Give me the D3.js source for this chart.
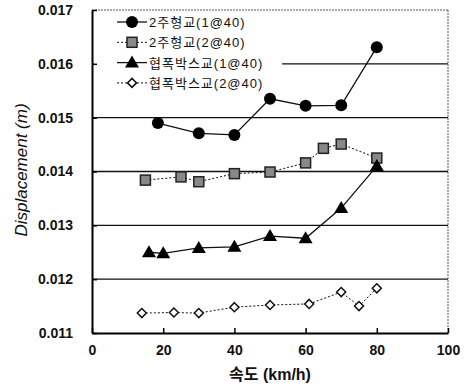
<!DOCTYPE html>
<html>
<head>
<meta charset="utf-8">
<script src="https://cdn.jsdelivr.net/npm/d3@7"></script>
<style>
  body { margin: 0; background: #fff; }
  text { font-family: "Liberation Sans", Arial, "Noto Sans CJK KR", sans-serif; }
</style>
</head>
<body>
<div id="chart"></div>
<script>
// data
const s1x = [18.5, 30, 40, 50, 60, 70, 80];
const s1y = [0.01490, 0.01471, 0.01468, 0.01535, 0.01522, 0.01523, 0.01631];
const s2x = [15, 25, 30, 40, 50, 60, 65, 70, 80];
const s2y = [0.01384, 0.01390, 0.01381, 0.01396, 0.01399, 0.01416, 0.01443, 0.01451, 0.01425];
const s3x = [16, 20, 30, 40, 50, 60, 70, 80];
const s3y = [0.01250, 0.01248, 0.01258, 0.01260, 0.01280, 0.01276, 0.01332, 0.01410];
const s4x = [14, 23, 30, 40, 50, 61, 70, 75, 80];
const s4y = [0.01137, 0.01138, 0.01137, 0.01148, 0.01152, 0.01154, 0.01176, 0.01150, 0.01183];
const seriesNames = ["2주형교(1@40)", "2주형교(2@40)", "협폭박스교(1@40)", "협폭박스교(2@40)"];
const xTicks = [0, 20, 40, 60, 80, 100];
const yTicks = [0.011, 0.012, 0.013, 0.014, 0.015, 0.016, 0.017];

const margin = {top: 10, right: 19, bottom: 56, left: 92},
      width = 467 - margin.left - margin.right,
      height = 389 - margin.top - margin.bottom;

const svg = d3.select("#chart")
  .append("svg")
    .attr("width", 467)
    .attr("height", 389)
  .append("g")
    .attr("transform", `translate(${margin.left},${margin.top})`);

const x = d3.scaleLinear().domain([0, 100]).range([0, width]);
const y = d3.scaleLinear().domain([0.011, 0.017]).range([height, 0]);

// gridlines
svg.selectAll(".grid")
  .data(yTicks.filter(d => d > 0.011 && d < 0.017))
  .enter().append("line")
    .attr("x1", 0).attr("x2", width)
    .attr("y1", d => y(d)).attr("y2", d => y(d))
    .attr("stroke", "#111")
    .attr("stroke-width", 1.3);

// top and right frame
svg.append("line").attr("x1", 0).attr("x2", width).attr("y1", 0).attr("y2", 0)
  .attr("stroke", "#555").attr("stroke-width", 1).attr("stroke-dasharray", "2,1");
svg.append("line").attr("x1", width).attr("x2", width).attr("y1", 0).attr("y2", height)
  .attr("stroke", "#555").attr("stroke-width", 1).attr("stroke-dasharray", "2,1");

// legend background (hides the gridline behind it)
const legend = svg.append("g").attr("transform", "translate(2,2)");
legend.append("rect").attr("x", 0).attr("y", 0).attr("width", 188).attr("height", 82).attr("fill", "#fff");

// axes
const xAxis = svg.append("g")
  .attr("transform", `translate(0,${height})`)
  .call(d3.axisBottom(x).tickValues(xTicks).tickSize(-5).tickPadding(12).tickSizeOuter(0));
xAxis.select(".domain").attr("stroke-width", 2);
xAxis.selectAll(".tick line").attr("stroke-width", 1.5);
xAxis.selectAll("text").style("font-size", "14px").style("font-weight", "bold").attr("fill", "#111");

const yAxis = svg.append("g")
  .call(d3.axisLeft(y).tickValues(yTicks).tickFormat(d3.format(".3f")).tickSize(-5).tickPadding(19).tickSizeOuter(0));
yAxis.select(".domain").attr("stroke-width", 2);
yAxis.selectAll(".tick line").attr("stroke-width", 1.5);
yAxis.selectAll("text").style("font-size", "14px").style("font-weight", "bold").attr("fill", "#111");

// axis titles
svg.append("text")
  .attr("x", x(50))
  .attr("y", height + 47)
  .attr("text-anchor", "middle")
  .style("font-size", "16px")
  .style("font-weight", "bold")
  .attr("fill", "#111")
  .text("속도 (km/h)");

svg.append("text")
  .attr("transform", "rotate(-90)")
  .attr("x", -(170 - margin.top))
  .attr("y", -65)
  .attr("text-anchor", "middle")
  .style("font-size", "17px")
  .style("font-style", "italic")
  .attr("fill", "#111")
  .text("Displacement (m)");

// series
const series = [
  {xs: s1x, ys: s1y, dash: null, shape: "circle"},
  {xs: s2x, ys: s2y, dash: "2,2", shape: "square"},
  {xs: s3x, ys: s3y, dash: null, shape: "triangle"},
  {xs: s4x, ys: s4y, dash: "2,2", shape: "diamond"}
];

const line = d3.line().x(d => x(d[0])).y(d => y(d[1]));

function drawMarker(g, shape, cx, cy) {
  if (shape === "circle") {
    g.append("circle").attr("cx", cx).attr("cy", cy).attr("r", 6).attr("fill", "#000");
  } else if (shape === "square") {
    g.append("rect").attr("x", cx - 5).attr("y", cy - 5).attr("width", 10).attr("height", 10)
      .attr("fill", "#888").attr("stroke", "#222").attr("stroke-width", 1.5);
  } else if (shape === "triangle") {
    g.append("path").attr("d", `M${cx},${cy - 7}L${cx + 7},${cy + 5}L${cx - 7},${cy + 5}Z`).attr("fill", "#000");
  } else {
    g.append("path").attr("d", `M${cx},${cy - 4.5}L${cx + 4.5},${cy}L${cx},${cy + 4.5}L${cx - 4.5},${cy}Z`)
      .attr("fill", "#fff").attr("stroke", "#111").attr("stroke-width", 1.5);
  }
}

series.forEach(s => {
  const pts = s.xs.map((v, i) => [v, s.ys[i]]);
  svg.append("path")
    .datum(pts)
    .attr("d", line)
    .attr("fill", "none")
    .attr("stroke", "#111")
    .attr("stroke-width", s.dash ? 1 : 1.3)
    .attr("stroke-dasharray", s.dash);
  const g = svg.append("g");
  pts.forEach(p => drawMarker(g, s.shape, x(p[0]), y(p[1])));
});

// legend entries
seriesNames.forEach((name, i) => {
  const ly = 10 + i * 20.3;
  legend.append("line").attr("x1", 23).attr("x2", 53).attr("y1", ly).attr("y2", ly)
    .attr("stroke", "#111").attr("stroke-width", series[i].dash ? 1 : 1.3)
    .attr("stroke-dasharray", series[i].dash);
  drawMarker(legend, series[i].shape, 38, ly);
  legend.append("text").attr("x", 55).attr("y", ly + 5)
    .style("font-size", "13px").style("letter-spacing", "1px")
    .attr("fill", "#111").text(name);
});
</script>
</body>
</html>
